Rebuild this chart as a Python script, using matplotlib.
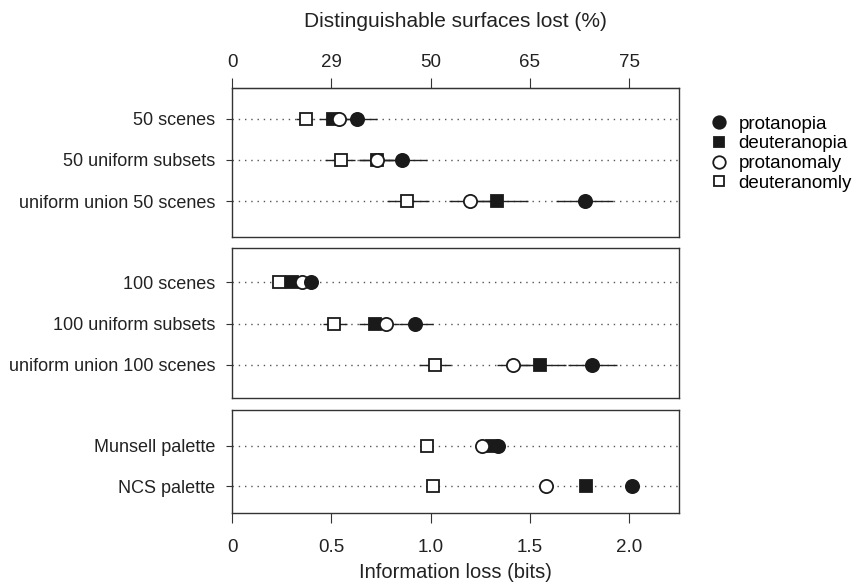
import matplotlib
matplotlib.use("Agg")
import matplotlib.pyplot as plt
import numpy as np
from matplotlib.lines import Line2D

plt.rcParams['font.family'] = ['Liberation Sans', 'DejaVu Sans']

# ---- data ----
series = ["protanopia", "deuteranopia", "protanomaly", "deuteranomly"]

panel1_cats = ["50 scenes", "50 uniform subsets", "uniform union 50 scenes"]
panel2_cats = ["100 scenes", "100 uniform subsets", "uniform union 100 scenes"]
panel3_cats = ["Munsell palette", "NCS palette"]

# values (bits) per category, ordered as series
p1_protanopia = [0.63, 0.855, 1.775]
p1_deuteranopia = [0.51, 0.73, 1.335]
p1_protanomaly = [0.54, 0.73, 1.20]
p1_deuteranomly = [0.37, 0.55, 0.88]
p1_lo_protanopia = [0.55, 0.76, 1.63]
p1_hi_protanopia = [0.73, 0.98, 1.92]
p1_lo_deuteranopia = [0.44, 0.64, 1.20]
p1_hi_deuteranopia = [0.58, 0.82, 1.49]
p1_lo_protanomaly = [0.47, 0.64, 1.09]
p1_hi_protanomaly = [0.61, 0.81, 1.30]
p1_lo_deuteranomly = [0.32, 0.47, 0.78]
p1_hi_deuteranomly = [0.41, 0.62, 0.99]

p2_protanopia = [0.40, 0.92, 1.81]
p2_deuteranopia = [0.30, 0.72, 1.55]
p2_protanomaly = [0.35, 0.775, 1.415]
p2_deuteranomly = [0.235, 0.515, 1.02]
p2_lo_protanopia = [0.36, 0.84, 1.69]
p2_hi_protanopia = [0.43, 1.01, 1.94]
p2_lo_deuteranopia = [0.26, 0.64, 1.44]
p2_hi_deuteranopia = [0.33, 0.79, 1.68]
p2_lo_protanomaly = [0.31, 0.70, 1.335]
p2_hi_protanomaly = [0.38, 0.84, 1.50]
p2_lo_deuteranomly = [0.21, 0.46, 0.94]
p2_hi_deuteranomly = [0.26, 0.58, 1.10]

p3_protanopia = [1.34, 2.015]
p3_deuteranopia = [1.31, 1.78]
p3_protanomaly = [1.26, 1.58]
p3_deuteranomly = [0.98, 1.01]

bottom_ticks = [0, 0.5, 1.0, 1.5, 2.0]
bottom_labels = ["0", "0.5", "1.0", "1.5", "2.0"]
top_labels = ["0", "29", "50", "65", "75"]

# ---- style ----
styles = {
    "protanopia": dict(marker="o", mfc="#1a1a1a", mec="#1a1a1a", ms=9.5),
    "deuteranopia": dict(marker="s", mfc="#1a1a1a", mec="#1a1a1a", ms=8),
    "protanomaly": dict(marker="o", mfc="white", mec="#1a1a1a", ms=9.5),
    "deuteranomly": dict(marker="s", mfc="white", mec="#1a1a1a", ms=8),
}
draw_order = ["deuteranomly", "deuteranopia", "protanomaly", "protanopia"]

W, H = 858, 586
fig = plt.figure(figsize=(W / 100, H / 100), dpi=100)

def ax_px(left, top, right, bottom):
    return fig.add_axes([left / W, 1 - bottom / H, (right - left) / W, (bottom - top) / H])

ax1 = ax_px(232, 88, 679, 237)
ax2 = ax_px(232, 248, 679, 398)
ax3 = ax_px(232, 410, 679, 513)

panels = [
    (ax1, panel1_cats,
     {"protanopia": p1_protanopia, "deuteranopia": p1_deuteranopia,
      "protanomaly": p1_protanomaly, "deuteranomly": p1_deuteranomly},
     {"protanopia": (p1_lo_protanopia, p1_hi_protanopia),
      "deuteranopia": (p1_lo_deuteranopia, p1_hi_deuteranopia),
      "protanomaly": (p1_lo_protanomaly, p1_hi_protanomaly),
      "deuteranomly": (p1_lo_deuteranomly, p1_hi_deuteranomly)},
     (-0.756, 2.878)),
    (ax2, panel2_cats,
     {"protanopia": p2_protanopia, "deuteranopia": p2_deuteranopia,
      "protanomaly": p2_protanomaly, "deuteranomly": p2_deuteranomly},
     {"protanopia": (p2_lo_protanopia, p2_hi_protanopia),
      "deuteranopia": (p2_lo_deuteranopia, p2_hi_deuteranopia),
      "protanomaly": (p2_lo_protanomaly, p2_hi_protanomaly),
      "deuteranomly": (p2_lo_deuteranomly, p2_hi_deuteranomly)},
     (-0.83, 2.805)),
    (ax3, panel3_cats,
     {"protanopia": p3_protanopia, "deuteranopia": p3_deuteranopia,
      "protanomaly": p3_protanomaly, "deuteranomly": p3_deuteranomly},
     None,
     (-0.878, 1.66)),
]

edge = "#333333"
for ax, cats, vals, cis, ylim in panels:
    y = np.arange(len(cats))
    for yi in y:
        ax.axhline(yi, color="#555555", lw=1.0, ls=(0, (1, 3.5)), zorder=1)
    if cis is not None:
        for s in draw_order:
            lo, hi = cis[s]
            ax.hlines(y, lo, hi, color="#222222", lw=1.0, zorder=2)
    for s in draw_order:
        st = styles[s]
        ax.plot(vals[s], y, ls="none", marker=st["marker"], ms=st["ms"],
                mfc=st["mfc"], mec=st["mec"], mew=1.3, zorder=3)
    ax.set_xlim(0, 2.25)
    ax.set_ylim(ylim[1], ylim[0])
    ax.set_yticks(y)
    ax.set_yticklabels(cats, fontsize=13, color="#222222")
    ax.tick_params(axis="y", length=4, width=0.8, color=edge, pad=8)
    for sp in ax.spines.values():
        sp.set_color(edge)
        sp.set_linewidth(1.0)
    ax.set_xticks(bottom_ticks)
    ax.tick_params(axis="x", bottom=False, labelbottom=False)

# bottom axis
ax3.tick_params(axis="x", bottom=True, labelbottom=True, length=7, width=0.8,
                color=edge, labelsize=13.5, labelcolor="#222222", pad=12)
ax3.set_xticklabels(bottom_labels)
ax3.set_xlabel("Information loss (bits)", fontsize=14.5, color="#222222", labelpad=5)

# top axis
sec = ax1.secondary_xaxis("top")
sec.set_xticks(bottom_ticks, labels=top_labels)
sec.tick_params(length=7, width=0.8, color=edge, labelsize=13.5, labelcolor="#222222", pad=5)
sec.spines["top"].set_color(edge)
sec.set_xlabel("Distinguishable surfaces lost (%)", fontsize=15, color="#222222", labelpad=20)

# legend
handles = [Line2D([], [], ls="none", marker=styles[s]["marker"], ms=styles[s]["ms"] - 0.5,
                  mfc=styles[s]["mfc"], mec=styles[s]["mec"], mew=1.3) for s in series]
fig.legend(handles, series, loc="upper left", bbox_to_anchor=(700 / W, 1 - 108 / H),
           frameon=False, fontsize=13.5, handletextpad=0.45, labelspacing=0.14,
           handlelength=1.2, borderaxespad=0)

fig.savefig("out.png", dpi=100)
